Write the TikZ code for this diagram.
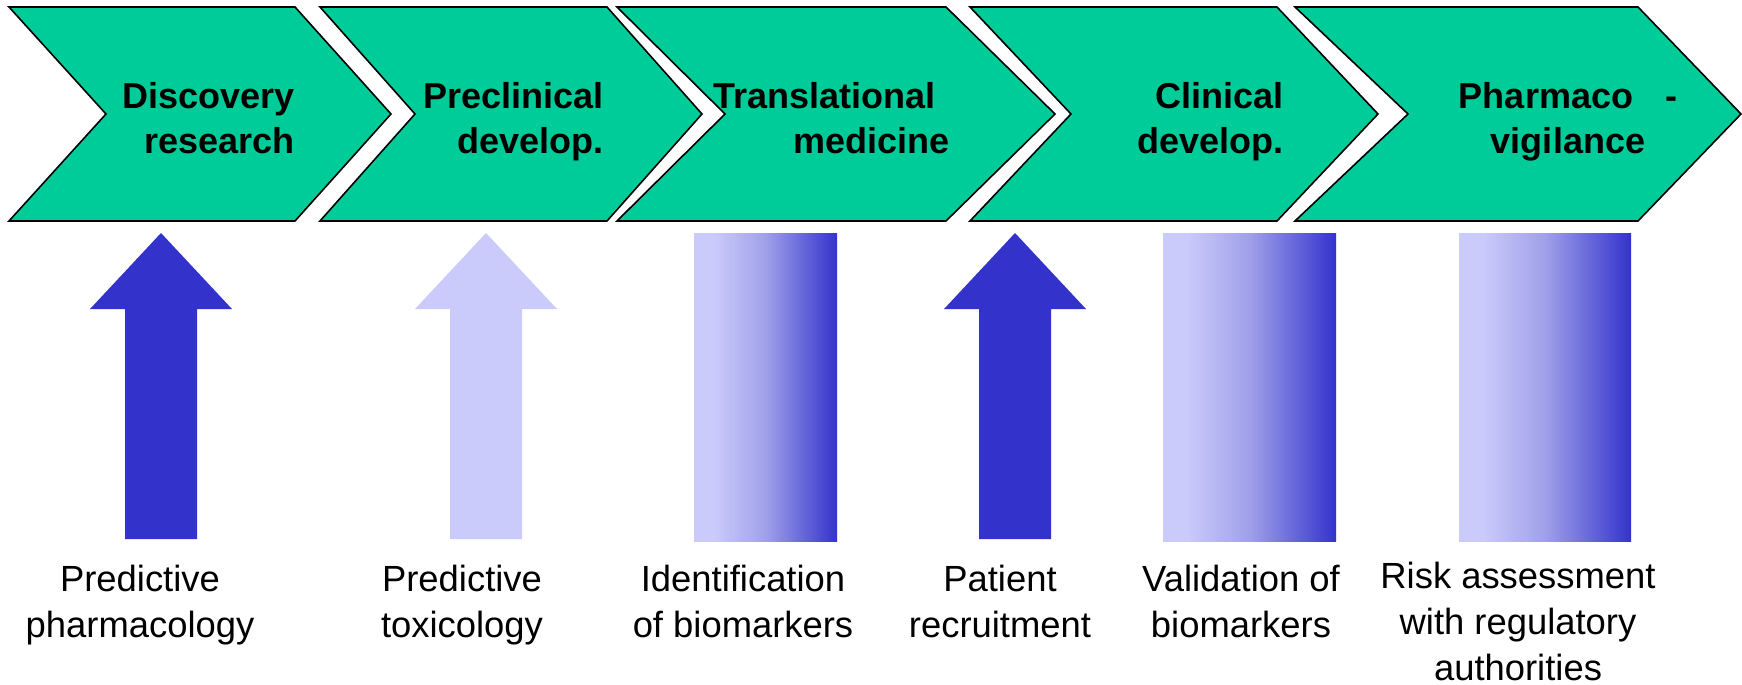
\documentclass[tikz,border=0pt]{standalone}
\usepackage{fontspec}
\setmainfont{Liberation Sans}
\usepackage{xcolor}

\definecolor{stagegreen}{HTML}{00CC99}
\definecolor{pdark}{HTML}{3333CC}
\definecolor{pmid}{HTML}{A0A0EA}
\definecolor{plight}{HTML}{CACAFB}
\pgfdeclarehorizontalshading{bioshade}{100bp}{color(0bp)=(plight); color(25bp)=(plight); color(32bp)=(plight); color(50bp)=(pmid); color(75bp)=(pdark); color(100bp)=(pdark)}

\tikzset{
  stage/.style={draw=black, line width=0.8pt, fill=stagegreen},
  stagelbl/.style={font=\bfseries\fontsize{18}{22.5}\selectfont, align=right},
  toollbl/.style={align=center, anchor=base}
}

\begin{document}
\begin{tikzpicture}[x=0.5pt, y=-0.5pt, every node/.style={font=\fontsize{18.2}{23}\selectfont, inner sep=0pt}]
    \useasboundingbox (0,0) rectangle (1742,685);

    % Pipeline stages
    \foreach \l/\r/\t/\n in {9/295/391/106, 320/607/702/415, 617/946/1055/725, 970/1277/1378/1071, 1295/1638/1741/1408}
        \draw[stage] (\l,7) -- (\r,7) -- (\t,114) -- (\r,221) -- (\l,221) -- (\n,114) -- cycle;

    % Stage labels
    \node[stagelbl, anchor=base east] (disc) at (295,153) {Discovery\\research};
    \node[stagelbl, anchor=base east] (precl) at (604,153) {Preclinical\\develop.};
    \node[stagelbl, anchor=base east] (transl) at (950,153) {Translational\hspace*{7pt}\\medicine};
    \node[stagelbl, anchor=base east] (clin) at (1284,153) {Clinical\\develop.};
    \node[stagelbl, align=center, anchor=base] (vigil) at (1568,153) {Pharmaco\hspace{16pt}-\\vigilance};

    % Block arrows
    \foreach \c/\col in {161/pdark, 486/plight, 1015/pdark}
        \fill[\col] (\c-36,539) -- (\c-36,309) -- (\c-71,309) -- (\c,233) -- (\c+71,309) -- (\c+36,309) -- (\c+36,539) -- cycle;

    % Biomarker bars
    \foreach \a/\b in {694/837, 1163/1336, 1459/1631}
        \shade[shading=bioshade] (\a,233) rectangle (\b,541);

    % Tool labels
    \node[toollbl] (pharm) at (140,637) {Predictive\\pharmacology};
    \node[toollbl] (tox) at (462,637) {Predictive\\toxicology};
    \node[toollbl] (ident) at (743,637) {Identification\\of biomarkers};
    \node[toollbl] (recr) at (1000,637) {Patient\\recruitment};
    \node[toollbl] (valid) at (1241,637) {Validation of\\biomarkers};
    \node[toollbl] (risk) at (1518,680) {Risk assessment\\with regulatory\\authorities};
\end{tikzpicture}
\end{document}
